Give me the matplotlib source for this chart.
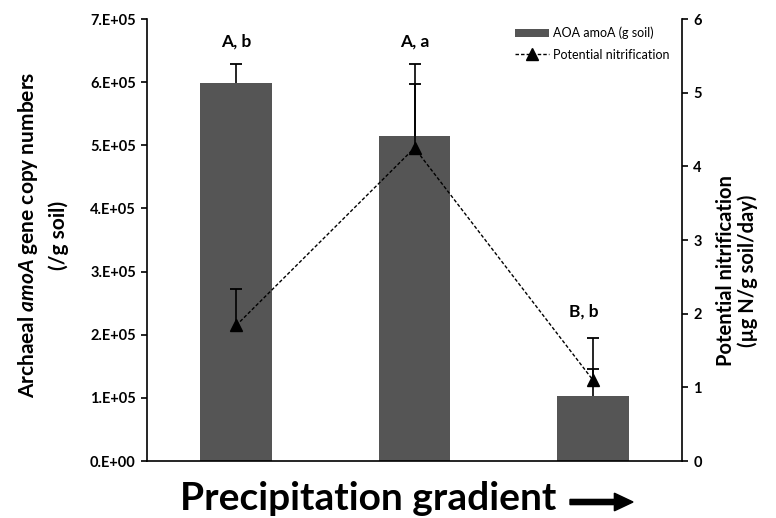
import numpy as np
import matplotlib.pyplot as plt
from matplotlib.patches import FancyArrow

plt.rcParams['font.family'] = ['Lato', 'DejaVu Sans']
plt.rcParams['mathtext.fontset'] = 'custom'
plt.rcParams['mathtext.bfit'] = 'Lato:italic:bold'
plt.rcParams['mathtext.bf'] = 'Lato:bold'

# data
sites = [0, 1, 2]
aoa_amoa = [5.99e5, 5.15e5, 1.03e5]
aoa_err = [0.30e5, 1.14e5, 0.43e5]
nitrif = [1.84, 4.25, 1.10]
nitrif_err = [0.50, 0.87, 0.57]
letters = ["A, b", "A, a", "B, b"]
letter_x = [0, 1, 1.95]
letter_y = [6.65e5, 6.65e5, 2.36e5]
left_ticks = np.arange(0, 8e5, 1e5)
left_labels = ["0.E+00", "1.E+05", "2.E+05", "3.E+05", "4.E+05", "5.E+05", "6.E+05", "7.E+05"]
right_ticks = [0, 1, 2, 3, 4, 5, 6]

bar_color = "#555555"

fig = plt.figure(figsize=(7.76, 5.18), dpi=100)
ax = fig.add_axes([0.1894, 0.110, 0.6895, 0.8533])
ax.bar(sites, aoa_amoa, width=0.40, color=bar_color, label="AOA amoA (g soil)", zorder=2)
tops = np.array(aoa_amoa) + np.array(aoa_err)
ax.vlines(sites, aoa_amoa, tops, color="black", linewidth=1.2, zorder=3)
ax.plot(sites, tops, linestyle="none", marker="_", markersize=8, markeredgewidth=1.3,
        color="black", zorder=3)
ax.set_ylim(0, 7e5)
ax.set_xlim(-0.5, 2.5)
ax.set_yticks(left_ticks)
ax.set_yticklabels(left_labels, fontweight="bold", fontsize=10.5)
ax.set_xticks([])
ax.spines["top"].set_visible(False)
ax.spines["right"].set_visible(False)
ax.spines["left"].set_linewidth(1.2)
ax.spines["bottom"].set_linewidth(1.2)
ax.tick_params(axis="y", direction="out", length=4, width=1.2, pad=4)

for x, lab, yy in zip(letter_x, letters, letter_y):
    ax.text(x, yy, lab, ha="center", va="center", fontweight="bold", fontsize=12.5)

ax2 = ax.twinx()
ntops = np.array(nitrif) + np.array(nitrif_err)
ax2.vlines(sites, nitrif, ntops, color="black", linewidth=1.2, zorder=3)
ax2.plot(sites, ntops, linestyle="none", marker="_", markersize=8, markeredgewidth=1.3,
         color="black", zorder=3)
ax2.plot(sites, nitrif, linestyle=(0, (2.5, 1.5)), color="black", linewidth=1.0,
         marker="^", markersize=9, markerfacecolor="black", label="Potential nitrification")
ax2.set_ylim(0, 6)
ax2.set_yticks(right_ticks)
ax2.set_yticklabels([str(t) for t in right_ticks], fontweight="bold", fontsize=10.5)
ax2.spines["top"].set_visible(False)
ax2.spines["left"].set_visible(False)
ax2.spines["bottom"].set_visible(False)
ax2.spines["right"].set_linewidth(1.2)
ax2.tick_params(axis="y", direction="out", length=4, width=1.2, pad=4)

fig.text(0.0548, 0.546, "Archaeal $\\mathbfit{amoA}$ gene copy numbers\n(/g soil)",
         rotation=90, ha="center", va="center", fontweight="bold", fontsize=15,
         linespacing=1.5, multialignment="center")
fig.text(0.950, 0.477, "Potential nitrification\n(\u00b5g N/g soil/day)", rotation=90,
         ha="center", va="center", fontweight="bold", fontsize=14.5, linespacing=1.05,
         multialignment="center")

h1, l1 = ax.get_legend_handles_labels()
h2, l2 = ax2.get_legend_handles_labels()
ax2.legend(h1 + h2, l1 + l2, loc="upper right", bbox_to_anchor=(0.99, 0.999),
           frameon=False, fontsize=9, handlelength=2.7, handletextpad=0.3,
           labelspacing=0.75, borderaxespad=0.2)

fig.text(0.474, 0.037, "Precipitation gradient", ha="center", va="center",
         fontweight="bold", fontsize=28)
fig.patches.append(FancyArrow(
    570 / 776, 1 - 502 / 518, 63 / 776, 0, width=0.010, head_width=0.034,
    head_length=0.024, length_includes_head=True, color="black",
    transform=fig.transFigure, figure=fig))

fig.savefig("out.png", dpi=100)
